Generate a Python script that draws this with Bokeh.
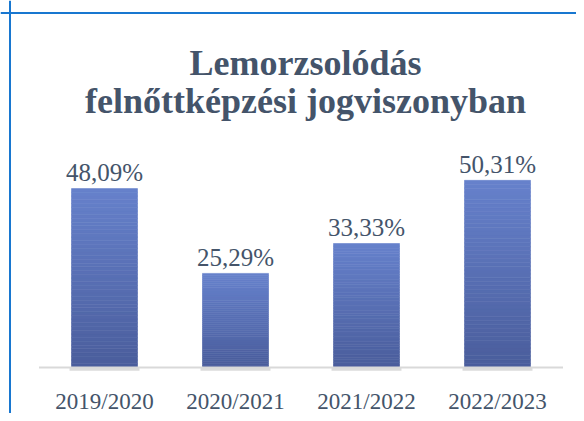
import numpy as np
from bokeh.plotting import figure
from bokeh.models import Span
from bokeh.core.properties import value
from bokeh.embed import file_html
from bokeh.resources import INLINE

# ---- data ----
categories = ["2019/2020", "2020/2021", "2021/2022", "2022/2023"]
rates = [48.09, 25.29, 33.33, 50.31]
rate_labels = ["48,09%", "25,29%", "33,33%", "50,31%"]
title_lines = ["Lemorzsolódás", "felnőttképzési jogviszonyban"]

# ---- layout constants (pixels) ----
W, H = 576, 413
PX_X = 131.0          # pixels per category
PX_Y = 3.72           # pixels per percent
X0_PX = 104.0         # pixel x of first category centre
BASE_PX = 367         # pixel y (from top) of the baseline

x_start = -X0_PX / PX_X
x_end = (W - X0_PX) / PX_X
y_start = -(H - BASE_PX) / PX_Y
y_end = BASE_PX / PX_Y

FONT = value("Liberation Serif")
TEXT_COLOR = "#44546A"

p = figure(width=W, height=H, x_range=(x_start, x_end), y_range=(y_start, y_end),
           output_backend="svg", toolbar_location=None, tools="", min_border=0)
p.xaxis.visible = False
p.yaxis.visible = False
p.grid.visible = False
p.outline_line_color = None
p.background_fill_color = "white"
p.border_fill_color = "white"

idx = list(range(len(categories)))
BAR_W = 66 / PX_X

# bar shadows under baseline
p.vbar(x=idx, bottom=[-0.9] * len(idx), top=[0] * len(idx), width=BAR_W + 0.03,
       fill_color="#BEBEBE", fill_alpha=0.55, line_color=None)

# gradient bars built from stacked slices of each value
N = 48
top_c = np.array([0x66, 0x81, 0xCC], dtype=float)
bot_c = np.array([0x4A, 0x5D, 0x9B], dtype=float)
xs, bottoms, tops, colors = [], [], [], []
for i, v in zip(idx, rates):
    for k in range(N):
        xs.append(i)
        bottoms.append(v * k / N)
        tops.append(v * (k + 1) / N)
        t = (k + 0.5) / N
        c = bot_c + (top_c - bot_c) * t
        colors.append("#%02x%02x%02x" % tuple(int(round(a)) for a in c))
p.vbar(x=xs, bottom=bottoms, top=tops, width=BAR_W, fill_color=colors,
       line_color=colors, line_width=0.6)

# baseline
p.line(x=[idx[0] - 0.5, idx[-1] + 0.5], y=[0, 0], line_color="#D9D9D9", line_width=2)

# value labels
p.text(x=idx, y=rates, text=rate_labels, text_font=FONT, text_font_size="25px",
       text_align="center", text_baseline="alphabetic", y_offset=-16,
       text_color=TEXT_COLOR)

# category labels
p.text(x=idx, y=[0] * len(idx), text=categories, text_font=FONT, text_font_size="23px",
       text_align="center", text_baseline="alphabetic", y_offset=34,
       text_color=TEXT_COLOR)

# title
title_x = 201 / PX_X
p.text(x=[title_x, title_x],
       y=[(BASE_PX - 62) / PX_Y, (BASE_PX - 100) / PX_Y],
       text=title_lines, text_font=FONT, text_font_size="36px",
       text_font_style="bold", text_align="center", text_baseline="alphabetic",
       text_color=TEXT_COLOR)

# frame border (left and top)
p.add_layout(Span(location=x_start + 9.5 / PX_X, dimension="height",
                  line_color="#1877D0", line_width=2))
p.add_layout(Span(location=y_end - 12.5 / PX_Y, dimension="width",
                  line_color="#1877D0", line_width=2))

open("out.html", "w").write(file_html(p, INLINE))
